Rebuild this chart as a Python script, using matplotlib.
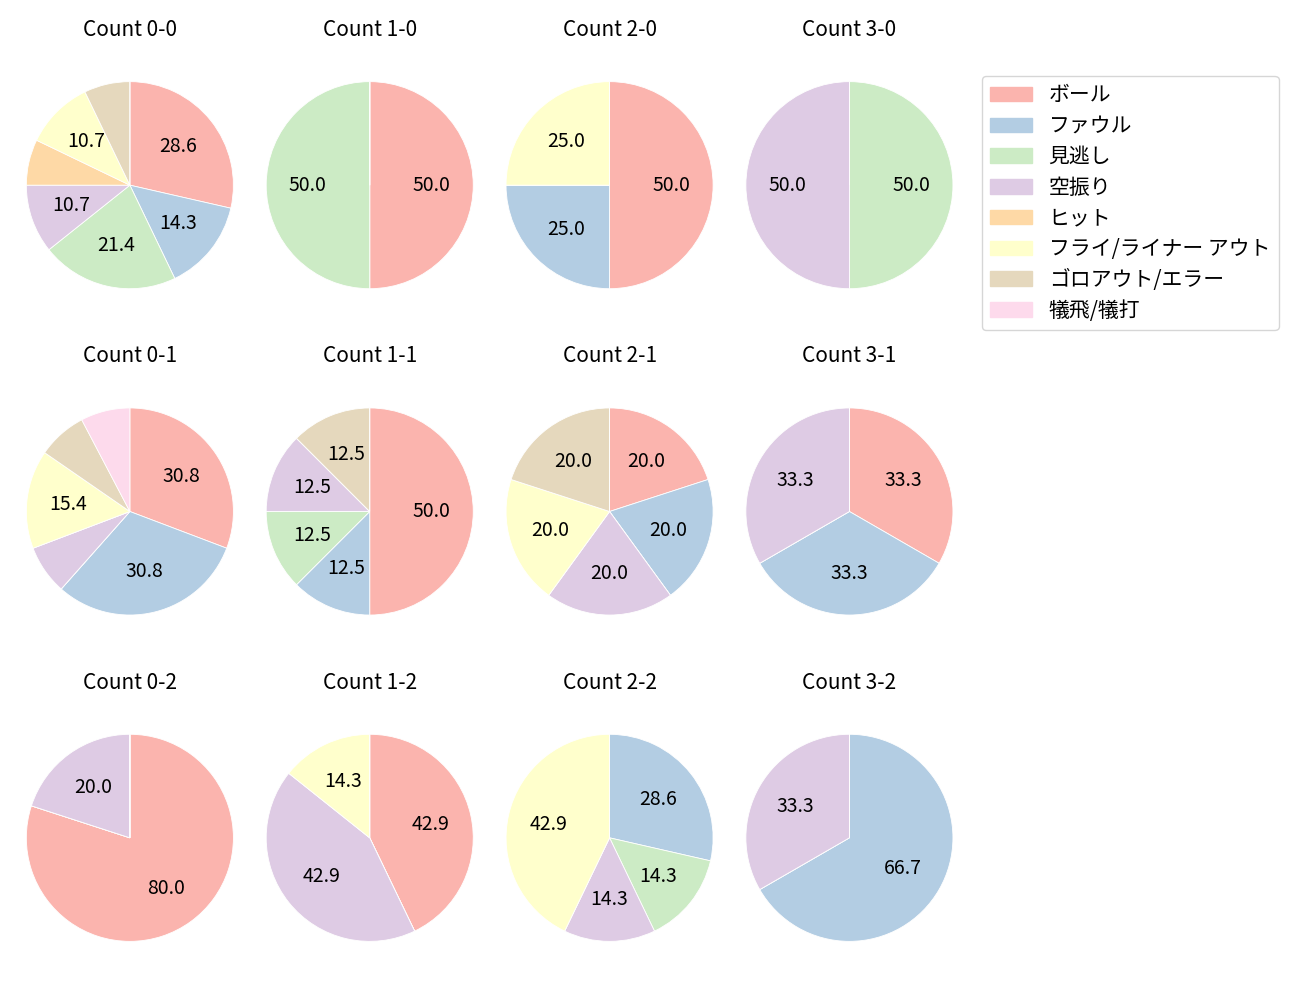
import matplotlib.pyplot as plt

plt.rcParams['font.family'] = ['Noto Sans CJK JP', 'DejaVu Sans']

categories = ["ボール", "ファウル", "見逃し", "空振り", "ヒット",
              "フライ/ライナー アウト", "ゴロアウト/エラー", "犠飛/犠打"]
colors = plt.get_cmap('Pastel1').colors[:len(categories)]

# pitch counts per category for each ball-strike count
counts = {
    "0-0": [8, 4, 6, 3, 2, 3, 2, 0],
    "1-0": [1, 0, 1, 0, 0, 0, 0, 0],
    "2-0": [2, 1, 0, 0, 0, 1, 0, 0],
    "3-0": [0, 0, 1, 1, 0, 0, 0, 0],
    "0-1": [4, 4, 0, 1, 0, 2, 1, 1],
    "1-1": [4, 1, 1, 1, 0, 0, 1, 0],
    "2-1": [1, 1, 0, 1, 0, 1, 1, 0],
    "3-1": [1, 1, 0, 1, 0, 0, 0, 0],
    "0-2": [4, 0, 0, 1, 0, 0, 0, 0],
    "1-2": [3, 0, 0, 3, 0, 1, 0, 0],
    "2-2": [0, 2, 1, 1, 0, 3, 0, 0],
    "3-2": [0, 2, 0, 1, 0, 0, 0, 0],
}
balls = [0, 1, 2, 3]
strikes = [0, 1, 2]


def pct_label(p):
    # small slices get no label
    return f"{p:.1f}" if p >= 10 else ""


fig, axes = plt.subplots(3, 4, figsize=(13, 10), dpi=100)
fig.subplots_adjust(left=0.0123, right=0.741, top=0.955, bottom=0.022,
                    wspace=0.053, hspace=0.164)

for r, s in enumerate(strikes):
    for c, b in enumerate(balls):
        ax = axes[r, c]
        key = f"{b}-{s}"
        vals = counts[key]
        ax.pie(vals, colors=colors, startangle=90, counterclock=False,
               autopct=pct_label, pctdistance=0.6,
               wedgeprops={'edgecolor': 'white', 'linewidth': 0.6},
               textprops={'fontsize': 14})
        ax.set_title(f"Count {key}", fontsize=15, pad=6.5)
        ax.set_xlim(-1.1, 1.1)
        ax.set_ylim(-1.1, 1.1)
        ax.set_aspect('equal', adjustable='datalim')

handles = [plt.Rectangle((0, 0), 1, 1, color=col) for col in colors]
fig.legend(handles, categories, loc='upper left', bbox_to_anchor=(0.7554, 0.924),
           borderaxespad=0, fontsize=15, labelspacing=0.42, frameon=True)

plt.savefig("out.png", dpi=100)
